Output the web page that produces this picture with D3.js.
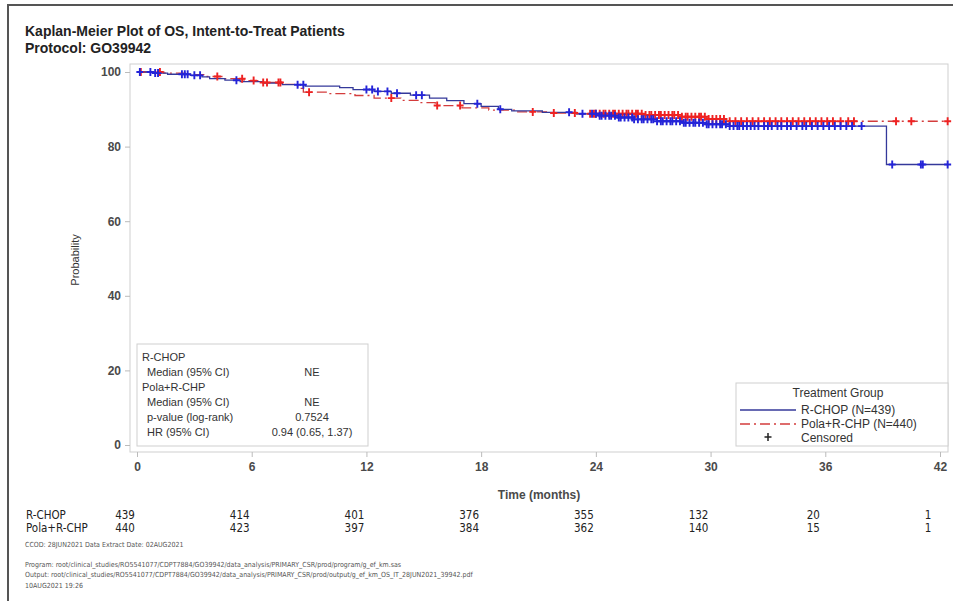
<!DOCTYPE html>
<html>
  <head>
    <meta charset="UTF-8">
    <title>Kaplan-Meier Plot of OS</title>
    <script src="https://d3js.org/d3.v7.min.js"></script>
    <style>
      body { margin: 0; background: #fff; }
      text { font-family: "Liberation Sans", Arial, sans-serif; fill: #333; }
      .narrow { font-family: "Liberation Sans Narrow", "DejaVu Sans Condensed", sans-serif; }
    </style>
  </head>
  <body>
    <div id="graph"></div>
    <script>

// axis ticks
const xTicks = [0, 6, 12, 18, 24, 30, 36, 42];
const yTicks = [0, 20, 40, 60, 80, 100];

// KM steps: event time (months) and survival (%) after it
const rchopTime = [0, 0.9, 1.6, 2.8, 3.4, 3.8, 4.6, 5.4, 6.6, 7.6, 8.8, 10.6, 11.3, 12.4, 13.3, 14.3, 15.3, 16.2, 17.1, 18.0, 18.9, 19.6, 21.2, 23.0, 24.2, 25.1, 26.0, 27.2, 28.5, 29.8, 31.0, 39.2];
const rchopSurv = [100, 99.7, 99.4, 99.1, 98.7, 98.2, 97.8, 97.4, 97.0, 96.6, 96.2, 95.8, 95.3, 94.8, 94.3, 93.8, 93.0, 92.3, 91.5, 90.8, 90.0, 89.6, 89.2, 88.8, 88.3, 87.8, 87.3, 86.8, 86.4, 86.0, 85.5, 75.2];

const polaTime = [0, 1.4, 2.6, 3.6, 4.6, 5.6, 6.4, 7.6, 8.4, 8.7, 10.0, 11.4, 12.4, 13.8, 14.8, 15.6, 17.0, 18.4, 19.8, 21.5, 23.0, 26.5, 28.5, 29.8, 30.8];
const polaSurv = [100, 99.7, 99.3, 98.8, 98.2, 97.7, 97.2, 96.7, 95.6, 94.6, 94.2, 93.7, 93.0, 92.4, 91.8, 91.0, 90.4, 89.8, 89.3, 89.0, 88.8, 88.5, 88.0, 87.4, 86.8];

// censoring times (months)
const rchopCens = [0.15, 0.7, 0.95, 1.1, 2.35, 2.5, 2.65, 3.0, 3.3, 5.2, 8.4, 8.7, 12.0, 12.3, 12.6, 13.1, 13.6, 14.6, 14.9, 17.8, 19.0, 22.6, 23.3,
  23.8, 24.0, 24.2, 24.3, 24.5, 24.7, 24.8, 25.0, 25.2, 25.3, 25.5, 25.7, 25.9, 26.0, 26.2, 26.4, 26.5, 26.7, 26.9, 27.0, 27.2, 27.4, 27.5, 27.7, 27.9,
  28.0, 28.2, 28.4, 28.6, 28.7, 28.9, 29.1, 29.2, 29.4, 29.6, 29.8, 29.9, 30.1, 30.3, 30.5, 30.6, 30.8, 31.0, 31.2, 31.4, 31.5, 31.7, 31.9, 32.1,
  32.3, 32.5, 32.8, 33.0, 33.2, 33.5, 33.7, 34.0, 34.2, 34.5, 34.8, 35.0, 35.3, 35.6, 35.9, 36.2, 36.5, 36.8, 37.1, 37.4, 37.9,
  39.5, 41.0, 41.1, 42.4];
const polaCens = [0.2, 1.2, 4.2, 5.5, 6.1, 6.6, 6.8, 7.4, 7.5, 9.0, 13.3, 15.7, 16.9, 20.7, 21.8, 22.9,
  23.7, 23.9, 24.0, 24.2, 24.4, 24.5, 24.7, 24.9, 25.0, 25.2, 25.4, 25.6, 25.7, 25.9, 26.1, 26.2, 26.4, 26.6, 26.8, 26.9, 27.1, 27.3, 27.4, 27.6,
  27.8, 28.0, 28.1, 28.3, 28.5, 28.7, 28.8, 29.0, 29.2, 29.4, 29.5, 29.7, 29.9, 30.1, 30.3, 30.5, 30.7, 31.0, 31.3, 31.6, 31.9, 32.2, 32.5,
  32.8, 33.1, 33.4, 33.7, 34.0, 34.3, 34.6, 34.9, 35.2, 35.5, 35.8, 36.1, 36.4, 36.8, 37.2, 37.5, 39.7, 40.5, 42.4];

// numbers at risk
const riskTimes = [0, 6, 12, 18, 24, 30, 36, 42];
const riskRchop = [439, 414, 401, 376, 355, 132, 20, 1];
const riskPola = [440, 423, 397, 384, 362, 140, 15, 1];

const endTime = 42.4;
const blue = "#34399a", red = "#d43c3c";
const blueMark = "#2424d8", redMark = "#ee2222";

const svg = d3.select("#graph")
  .append("svg")
  .attr("width", 953)
  .attr("height", 601);

// outer frame
svg.append("path")
  .attr("d", "M8,601V5H953")
  .attr("fill", "none")
  .attr("stroke", "#555")
  .attr("stroke-width", 2);

svg.append("text").attr("x", 25).attr("y", 36)
  .style("font-size", "14px").style("font-weight", "bold").style("fill", "#222")
  .text("Kaplan-Meier Plot of OS, Intent-to-Treat Patients");
svg.append("text").attr("x", 25).attr("y", 53)
  .style("font-size", "14px").style("font-weight", "bold").style("fill", "#222")
  .text("Protocol: GO39942");

const xScale = d3.scaleLinear().domain([0, 42]).range([137, 940]);
const yScale = d3.scaleLinear().domain([0, 100]).range([445, 72]);

// plot frame
svg.append("rect")
  .attr("x", 130).attr("y", 64)
  .attr("width", 818).attr("height", 388)
  .attr("fill", "none")
  .attr("stroke", "#cfcfcf");

const xAxis = svg.append("g")
  .attr("transform", "translate(0,452)")
  .call(d3.axisBottom(xScale).tickValues(xTicks).tickSize(5).tickPadding(5));
const yAxis = svg.append("g")
  .attr("transform", "translate(130,0)")
  .call(d3.axisLeft(yScale).tickValues(yTicks).tickSize(5).tickPadding(4));

[xAxis, yAxis].forEach(a => {
  a.select(".domain").remove();
  a.selectAll(".tick line").attr("stroke", "#bbb");
  a.selectAll(".tick text")
    .style("font-family", '"Liberation Sans", Arial, sans-serif')
    .style("font-size", "12px").style("font-weight", "bold").style("fill", "#4a4a4a");
});

svg.append("text").attr("x", 539).attr("y", 499)
  .attr("text-anchor", "middle").style("font-size", "12px").style("font-weight", "bold").style("fill", "#4a4a4a")
  .text("Time (months)");
svg.append("text")
  .attr("transform", "translate(79,260) rotate(-90)")
  .attr("text-anchor", "middle").style("font-size", "11px")
  .text("Probability");

// curves
function steps(times, surv) {
  const pts = times.map((t, i) => [t, surv[i]]);
  pts.push([endTime, surv[surv.length - 1]]);
  return pts;
}
function survAt(times, surv, t) {
  return surv[Math.max(0, d3.bisectRight(times, t) - 1)];
}

const line = d3.line()
  .x(d => xScale(d[0]))
  .y(d => yScale(d[1]))
  .curve(d3.curveStepAfter);

function censorMarks(cens, times, surv, color) {
  svg.append("g").selectAll("path")
    .data(cens)
    .enter()
    .append("path")
    .attr("d", t => {
      const x = xScale(t), y = yScale(survAt(times, surv, t));
      return "M" + (x - 3.5) + "," + y + "H" + (x + 3.5) + "M" + x + "," + (y - 4) + "V" + (y + 4);
    })
    .attr("stroke", color)
    .attr("stroke-width", 1.9);
}

svg.append("path")
  .attr("d", line(steps(polaTime, polaSurv)))
  .attr("fill", "none").attr("stroke", red).attr("stroke-width", 1.3)
  .attr("stroke-dasharray", "10,4,2,4");
svg.append("path")
  .attr("d", line(steps(rchopTime, rchopSurv)))
  .attr("fill", "none").attr("stroke", blue).attr("stroke-width", 1.3);

censorMarks(polaCens, polaTime, polaSurv, redMark);
censorMarks(rchopCens, rchopTime, rchopSurv, blueMark);

// stats inset
const inset = svg.append("g");
inset.append("rect")
  .attr("x", 137).attr("y", 344).attr("width", 231).attr("height", 102)
  .attr("fill", "#fff").attr("stroke", "#cfcfcf");
const statLabels = ["R-CHOP", " Median (95% CI)", "Pola+R-CHP", " Median (95% CI)", " p-value (log-rank)", " HR (95% CI)"];
const statValues = ["", "NE", "", "NE", "0.7524", "0.94 (0.65, 1.37)"];
statLabels.forEach((s, i) => {
  inset.append("text")
    .attr("x", s.startsWith(" ") ? 147 : 142).attr("y", 361 + i * 15)
    .style("font-size", "11px")
    .text(s.trim());
  inset.append("text")
    .attr("x", 312).attr("y", 361 + i * 15)
    .attr("text-anchor", "middle").style("font-size", "11px")
    .text(statValues[i]);
});

// legend
const legend = svg.append("g");
legend.append("rect")
  .attr("x", 736).attr("y", 383).attr("width", 212).attr("height", 63)
  .attr("fill", "#fff").attr("stroke", "#cfcfcf");
legend.append("text").attr("x", 838).attr("y", 397)
  .attr("text-anchor", "middle").style("font-size", "12px").text("Treatment Group");
legend.append("line").attr("x1", 740).attr("x2", 796).attr("y1", 410).attr("y2", 410)
  .attr("stroke", blue).attr("stroke-width", 1.3);
legend.append("line").attr("x1", 740).attr("x2", 796).attr("y1", 424).attr("y2", 424)
  .attr("stroke", red).attr("stroke-width", 1.3).attr("stroke-dasharray", "10,4,2,4");
legend.append("path").attr("d", "M764.5,437H771.5M768,433V441")
  .attr("stroke", "#222").attr("stroke-width", 1.5);
[["R-CHOP (N=439)", 414], ["Pola+R-CHP (N=440)", 428], ["Censored", 442]].forEach(d => {
  legend.append("text").attr("x", 801).attr("y", d[1]).style("font-size", "12px").text(d[0]);
});

// numbers at risk
const risk = svg.append("g").attr("class", "narrow");
[["R-CHOP", riskRchop, 519], ["Pola+R-CHP", riskPola, 532]].forEach(r => {
  risk.append("text").attr("class", "narrow").attr("x", 26).attr("y", r[2])
    .style("font-size", "11.5px").style("fill", "#222").text(r[0]);
  risk.selectAll(null)
    .data(r[1])
    .enter()
    .append("text")
    .attr("class", "narrow")
    .attr("x", (d, i) => xScale(riskTimes[i]) - 12)
    .attr("y", r[2])
    .attr("text-anchor", "middle")
    .style("font-size", "11.5px").style("fill", "#222")
    .text(d => d);
});

// footnotes
const notes = [
  ["CCOD: 28JUN2021  Data Extract Date: 02AUG2021", 547],
  ["Program: root/clinical_studies/RO5541077/CDPT7884/GO39942/data_analysis/PRIMARY_CSR/prod/program/g_ef_km.sas", 567],
  ["Output: root/clinical_studies/RO5541077/CDPT7884/GO39942/data_analysis/PRIMARY_CSR/prod/output/g_ef_km_OS_IT_28JUN2021_39942.pdf", 577],
  ["10AUG2021 19:26", 588]
];
notes.forEach(n => {
  svg.append("text").attr("class", "narrow").attr("x", 25).attr("y", n[1])
    .style("font-size", "7px").style("fill", "#555").text(n[0]);
});

    </script>
  </body>
</html>
